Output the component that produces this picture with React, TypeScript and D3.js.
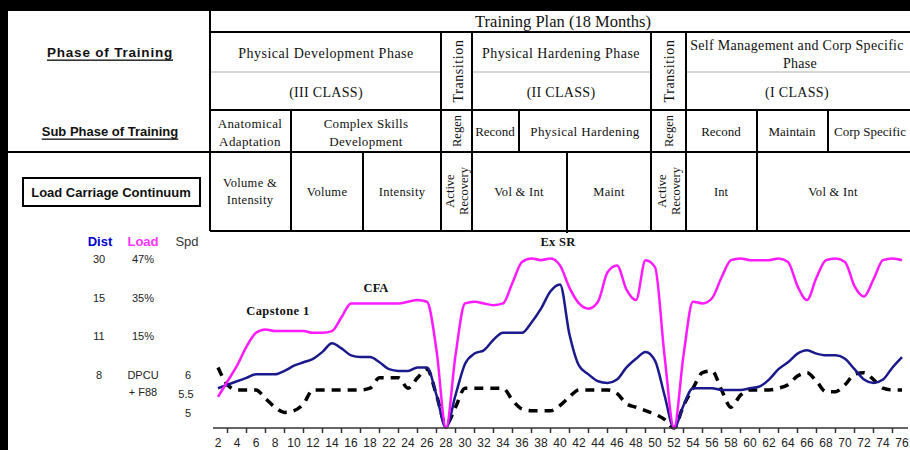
import React from "react";
import * as d3 from "d3";

// x axis labels (the original sheet skips 20)
const tickLabels = [
  "2", "4", "6", "8", "10", "12", "14", "16", "18", "22", "24", "26", "28",
  "30", "32", "34", "36", "38", "40", "42", "44", "46", "48", "50", "52",
  "54", "56", "58", "60", "62", "64", "66", "68", "70", "72", "74", "76",
];

// one value per week (half a label step), relative height 0-100
const loadSeries = [
  18, 27, 36, 47, 55, 57, 56, 56, 56, 56, 55, 55, 56, 64, 72, 72, 72, 72, 72,
  72, 73, 74, 73, 45, 0, 42, 72, 73, 72, 71, 72, 84, 96, 98, 97, 98, 94, 81,
  72, 69, 73, 90, 94, 80, 74, 97, 93, 42, 0, 42, 73, 72, 75, 87, 97, 98, 97,
  97, 97, 98, 96, 82, 74, 87, 97, 98, 96, 82, 76, 86, 97, 98, 97,
];
const distSeries = [
  23, 25, 27, 29, 31, 31, 31, 33, 36, 38, 40, 44, 49, 46, 42, 41, 41, 38, 34,
  33, 33, 35, 35, 19, 0, 19, 37, 43, 45, 51, 55, 55, 55, 61, 69, 79, 83, 54,
  36, 31, 27, 26, 28, 35, 40, 44, 39, 19, 0, 13, 23, 23, 23, 22, 22, 22, 23,
  24, 28, 34, 38, 43, 45, 43, 42, 42, 40, 34, 28, 26, 28, 35, 41,
];
const speedSeries = [
  35, 25, 22, 22, 22, 17, 12, 9, 10, 14, 22, 22, 22, 22, 22, 22, 23, 29, 29,
  29, 23, 29, 34, 19, 2, 12, 23, 23, 23, 23, 23, 16, 11, 10, 10, 10, 13, 18,
  22, 22, 22, 22, 20, 14, 12, 10, 8, 5, 0, 13, 23, 32, 33, 22, 12, 19, 22,
  22, 22, 23, 25, 30, 32, 27, 21, 21, 25, 31, 32, 28, 23, 22, 22,
];

const leftRows = [
  { dist: "30", load: "47%", spd: "" },
  { dist: "15", load: "35%", spd: "" },
  { dist: "11", load: "15%", spd: "" },
  { dist: "8", load: "DPCU", spd: "6" },
];

const serif = "'Liberation Serif', 'Times New Roman', serif";
const sans = "'Liberation Sans', Arial, sans-serif";

function Txt({ x, y, children, size = 12, rotate = false, bold = false, family = serif, fill = "#111", anchor = "middle", spacing = 0 }: any) {
  return (
    <text
      x={rotate ? 0 : x}
      y={rotate ? 0 : y}
      transform={rotate ? `translate(${x},${y}) rotate(-90)` : undefined}
      textAnchor={anchor}
      dominantBaseline="central"
      fontFamily={family}
      fontSize={size}
      fontWeight={bold ? "bold" : "normal"}
      letterSpacing={spacing}
      fill={fill}
    >
      {children}
    </text>
  );
}

export default function App() {
  const W = 910, H = 450;
  const x = d3.scaleLinear().domain([0, tickLabels.length - 1]).range([218, 902]);
  const y = d3.scaleLinear().domain([0, 100]).range([428, 255]);
  const line = d3
    .line<number>()
    .x((_, i) => x(i / 2))
    .y((d) => y(d))
    .curve(d3.curveMonotoneX);

  const hLines = [
    [8, 910, 10], [210, 910, 32], [210, 910, 110], [8, 910, 152], [210, 910, 231],
  ];
  const vLines = [
    [210, 10, 231], [441, 32, 231], [472, 32, 231], [651, 32, 231], [686, 32, 231],
    [291, 110, 231], [519, 110, 152], [757, 110, 231], [828, 110, 152],
    [363, 152, 231], [567, 152, 233],
  ];
  const greyLines = [[210, 441], [472, 651], [686, 910]];

  return (
    <svg width={W} height={H} style={{ position: "absolute", left: 0, top: 0 }}>
      <rect width={W} height={H} fill="#000" />
      <rect x={8} y={9} width={W - 8} height={H - 9} fill="#fff" />

      {/* table grid */}
      {greyLines.map(([a, b], i) => (
        <line key={"g" + i} x1={a} x2={b} y1={72} y2={72} stroke="#c8c8c8" strokeWidth={1.5} />
      ))}
      {hLines.map(([a, b, yy], i) => (
        <line key={"h" + i} x1={a} x2={b} y1={yy} y2={yy} stroke="#000" strokeWidth={2} />
      ))}
      {vLines.map(([xx, a, b], i) => (
        <line key={"v" + i} x1={xx} x2={xx} y1={a} y2={b} stroke="#000" strokeWidth={2} />
      ))}

      {/* left header labels */}
      <text x={110} y={52} textAnchor="middle" dominantBaseline="central" fontFamily={sans}
        fontSize={13.5} fontWeight="bold" letterSpacing={0.8} textDecoration="underline" fill="#111">Phase of Training</text>
      <text x={110} y={131} textAnchor="middle" dominantBaseline="central" fontFamily={sans}
        fontSize={13} fontWeight="bold" textDecoration="underline" fill="#111">Sub Phase of Training</text>
      <rect x={23} y={178} width={177} height={28} fill="none" stroke="#000" strokeWidth={2} />
      <Txt x={111} y={192} size={13} bold family={sans}>Load Carriage Continuum</Txt>

      {/* table text */}
      <Txt x={563} y={21} size={16.5}>Training Plan (18 Months)</Txt>
      <Txt x={326} y={53} size={14} spacing={0.5}>Physical Development Phase</Txt>
      <Txt x={326} y={92} size={14} spacing={0.3}>(III CLASS)</Txt>
      <Txt x={458} y={71} size={14} spacing={0.6} rotate>Transition</Txt>
      <Txt x={561} y={53} size={14} spacing={0.5}>Physical Hardening Phase</Txt>
      <Txt x={561} y={92} size={14} spacing={0.3}>(II CLASS)</Txt>
      <Txt x={669} y={71} size={14} spacing={0.6} rotate>Transition</Txt>
      <Txt x={797} y={45} size={14} spacing={0.3}>Self Management and Corp Specific</Txt>
      <Txt x={800} y={63} size={14} spacing={0.3}>Phase</Txt>
      <Txt x={797} y={92} size={14} spacing={0.3}>(I CLASS)</Txt>

      <Txt x={250} y={123} size={13} spacing={0.4}>Anatomical</Txt>
      <Txt x={250} y={141} size={13} spacing={0.4}>Adaptation</Txt>
      <Txt x={366} y={123} size={13} spacing={0.3}>Complex Skills</Txt>
      <Txt x={366} y={141} size={13} spacing={0.3}>Development</Txt>
      <Txt x={457} y={131} size={12.5} rotate>Regen</Txt>
      <Txt x={495} y={131} size={13}>Recond</Txt>
      <Txt x={585} y={131} size={13} spacing={0.4}>Physical Hardening</Txt>
      <Txt x={669} y={131} size={12.5} rotate>Regen</Txt>
      <Txt x={721} y={131} size={13}>Recond</Txt>
      <Txt x={792} y={131} size={13}>Maintain</Txt>
      <Txt x={870} y={131} size={13}>Corp Specific</Txt>

      <Txt x={250} y={183} size={12.5} spacing={0.3}>Volume &amp;</Txt>
      <Txt x={250} y={200} size={12.5} spacing={0.3}>Intensity</Txt>
      <Txt x={327} y={192} size={12.5} spacing={0.3}>Volume</Txt>
      <Txt x={402} y={192} size={12.5} spacing={0.3}>Intensity</Txt>
      <Txt x={450} y={191} size={12.5} rotate>Active</Txt>
      <Txt x={464} y={191} size={12.5} rotate>Recovery</Txt>
      <Txt x={519} y={192} size={12.5} spacing={0.3}>Vol &amp; Int</Txt>
      <Txt x={609} y={192} size={12.5} spacing={0.3}>Maint</Txt>
      <Txt x={662} y={191} size={12.5} rotate>Active</Txt>
      <Txt x={676} y={191} size={12.5} rotate>Recovery</Txt>
      <Txt x={721} y={192} size={12.5}>Int</Txt>
      <Txt x={833} y={192} size={12.5} spacing={0.3}>Vol &amp; Int</Txt>

      {/* left scale notes */}
      <Txt x={100} y={241} size={13} bold family={sans} fill="#0000cc">Dist</Txt>
      <Txt x={143} y={241} size={13} bold family={sans} fill="#ff33ff">Load</Txt>
      <Txt x={187} y={241} size={13} family={sans} fill="#333">Spd</Txt>
      {leftRows.map((r, i) => {
        const yy = 259 + i * 38.7;
        return (
          <g key={"lr" + i}>
            <Txt x={99} y={yy} size={11} family={sans} fill="#222">{r.dist}</Txt>
            <Txt x={143} y={yy} size={11} family={sans} fill="#222">{r.load}</Txt>
            {r.spd && <Txt x={188} y={yy} size={11} family={sans} fill="#222">{r.spd}</Txt>}
          </g>
        );
      })}
      <Txt x={143} y={392} size={11} family={sans} fill="#222">+ F88</Txt>
      <Txt x={186} y={394} size={11} family={sans} fill="#222">5.5</Txt>
      <Txt x={188} y={413} size={11} family={sans} fill="#222">5</Txt>

      {/* annotations */}
      <Txt x={278} y={311} size={12.5} bold spacing={0.4}>Capstone 1</Txt>
      <Txt x={376} y={288} size={12.5} bold>CFA</Txt>
      <Txt x={558} y={242} size={12.5} bold spacing={0.3}>Ex SR</Txt>

      {/* series */}
      <path d={line(speedSeries) || ""} fill="none" stroke="#000" strokeWidth={3.5} strokeDasharray="9,7" />
      <path d={line(distSeries) || ""} fill="none" stroke="#1a1a8c" strokeWidth={2.5} />
      <path d={line(loadSeries) || ""} fill="none" stroke="#ff1aff" strokeWidth={2.5} />

      {/* x axis */}
      <line x1={213} x2={908} y1={y(0)} y2={y(0)} stroke="#333" strokeWidth={1.5} />
      {tickLabels.slice(0, -1).map((_, i) => (
        <line key={"t" + i} x1={x(i + 0.5)} x2={x(i + 0.5)} y1={y(0)} y2={y(0) + 5} stroke="#333" strokeWidth={1.5} />
      ))}
      {tickLabels.map((t, i) => (
        <Txt key={"l" + i} x={x(i)} y={443} size={12} family={sans} fill="#222">{t}</Txt>
      ))}
    </svg>
  );
}
